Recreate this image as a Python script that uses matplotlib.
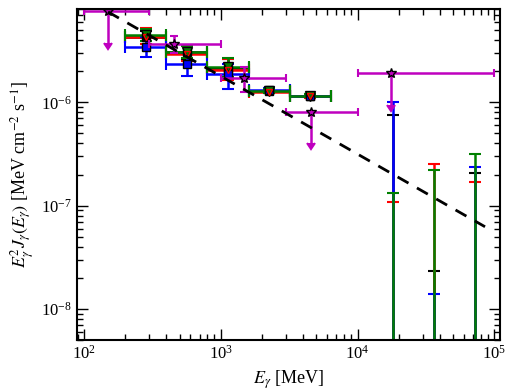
import numpy as np
from matplotlib import pyplot as plt

plt.rcParams['font.family'] = 'serif'
plt.rcParams['font.serif'] = ['Liberation Serif', 'DejaVu Serif']
plt.rcParams['mathtext.fontset'] = 'stix'

# energy bins (MeV) of the four binned analyses
E_lo = np.array([200., 400., 800., 1600., 3200.])
E_hi = np.array([400., 800., 1600., 3200., 6400.])
# high energy bins where only the top of the error bar is in range
E_top = np.array([18100., 36200., 72400.])

# blue series
flux_blue = np.array([3.44e-6, 2.33e-6, 1.88e-6, 1.31e-6, 1.16e-6])
blue_lo = np.array([0.72e-6, 0.55e-6, 0.54e-6, 0.05e-6, 0.04e-6])
blue_hi = np.array([0.80e-6, 0.70e-6, 0.49e-6, 0.05e-6, 0.04e-6])
top_blue = np.array([1.0e-6, 1.4e-8, 2.37e-7])

# black series
flux_black = np.array([4.25e-6, 3.05e-6, 2.13e-6, 1.28e-6, 1.16e-6])
black_lo = np.array([0.55e-6, 0.40e-6, 0.40e-6, 0.05e-6, 0.04e-6])
black_hi = np.array([0.65e-6, 0.45e-6, 0.50e-6, 0.05e-6, 0.04e-6])
top_black = np.array([7.5e-7, 2.33e-8, 2.05e-7])

# red series
flux_red = np.array([4.30e-6, 2.94e-6, 2.06e-6, 1.27e-6, 1.15e-6])
red_lo = np.array([0.60e-6, 0.45e-6, 0.40e-6, 0.05e-6, 0.04e-6])
red_hi = np.array([0.90e-6, 0.60e-6, 0.55e-6, 0.05e-6, 0.04e-6])
top_red = np.array([1.08e-7, 2.52e-7, 1.71e-7])

# green series
flux_green = np.array([4.44e-6, 3.08e-6, 2.18e-6, 1.28e-6, 1.16e-6])
green_lo = np.array([0.55e-6, 0.38e-6, 0.42e-6, 0.05e-6, 0.04e-6])
green_hi = np.array([0.63e-6, 0.42e-6, 0.52e-6, 0.05e-6, 0.04e-6])
top_green = np.array([1.32e-7, 2.2e-7, 3.13e-7])

# magenta series (stars, mostly upper limits)
Em = np.array([150., 455., 1470., 4540., 17700.])
Em_lo = np.array([100., 300., 1000., 3000., 10000.])
Em_hi = np.array([300., 1000., 3000., 10000., 100000.])
flux_m = np.array([7.57e-6, 3.63e-6, 1.71e-6, 8.0e-7, 1.9e-6])
m_lo = np.array([3.8e-6, 0.63e-6, 0.46e-6, 4.0e-7, 0.95e-6])
m_hi = np.array([0., 0.72e-6, 0.47e-6, 0., 0.])
m_ul = np.array([True, False, False, True, True])

# power law model
model_E = np.array([150., 85500.])
model_flux = np.array([7.5e-6, 6.24e-8])

fig = plt.figure(figsize=(5.1, 3.92), dpi=100)
ax = fig.add_axes([77/510., 1 - 340/392., 423/510., 331/392.])
ax.set_xscale('log')
ax.set_yscale('log')

Ec = np.sqrt(E_lo*E_hi)
xerr = [Ec - E_lo, E_hi - Ec]
eb = dict(fmt='none', elinewidth=1.8, capsize=4, capthick=1.5)

series = [(flux_black, black_lo, black_hi, top_black, 'k'),
          (flux_red, red_lo, red_hi, top_red, 'r'),
          (flux_blue, blue_lo, blue_hi, top_blue, 'b'),
          (flux_green, green_lo, green_hi, top_green, 'g')]
for f, lo, hi, top, c in series:
    ax.errorbar(Ec, f, xerr=xerr, yerr=[lo, hi], ecolor=c, **eb)
    # lower end is negative, so the bar runs off the bottom
    ax.errorbar(E_top, top, yerr=[top - 1e-12, 0*top], ecolor=c, **eb)

ax.plot(Ec, flux_black, 's', color='k', ms=6)
ax.plot(Ec, flux_blue, 's', mfc='b', mec='k', ms=6)
ax.plot(Ec, flux_green, 'v', mfc='g', mec='k', ms=7)
ax.plot(Ec, flux_red, 'v', mfc='none', mec='r', ms=4, mew=1)

ax.errorbar(Em, flux_m, xerr=[Em - Em_lo, Em_hi - Em], yerr=[m_lo, m_hi],
            uplims=m_ul, fmt='*', color='m', mfc='m', mec='k', ms=7,
            elinewidth=1.8, capsize=3, capthick=1.5)

ax.plot(model_E, model_flux, color='k', lw=2, ls=(0, (4.5, 3.5)), zorder=5)

ax.set_xlim(89, 1.1e5)
ax.set_ylim(5e-9, 8e-6)
ax.tick_params(which='both', direction='in', top=True, right=True, labelsize=12)
ax.tick_params(which='major', length=8, width=1)
ax.tick_params(which='minor', length=4, width=1)
for s in ax.spines.values():
    s.set_linewidth(1.5)

ax.set_xlabel(r'$E_\gamma$ [MeV]', fontsize=13)
ax.set_ylabel(r'$E_\gamma^2 J_\gamma(E_\gamma)$ [MeV cm$^{-2}$ s$^{-1}$]', fontsize=13)

plt.savefig('out.png', dpi=100)
